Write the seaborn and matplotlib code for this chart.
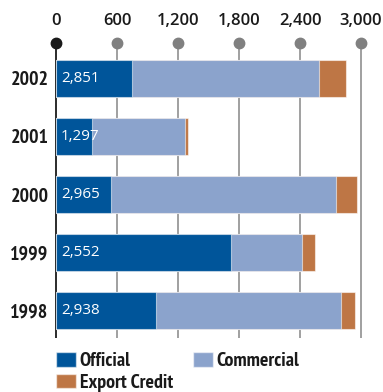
import matplotlib
matplotlib.use("Agg")
import matplotlib.pyplot as plt
import matplotlib.transforms as mtransforms
from matplotlib.patches import Patch
import seaborn as sns
import pandas as pd

# ---- data ----
years = ["2002", "2001", "2000", "1999", "1998"]
official = [747, 354, 541, 1721, 979]
commercial = [1842, 911, 2212, 695, 1822]
export_credit = [262, 32, 212, 136, 137]
totals = [2851, 1297, 2965, 2552, 2938]
xticks = [0, 600, 1200, 1800, 2400, 3000]
series_names = ["Official", "Commercial", "Export Credit"]
colors = ["#00559A", "#8BA3CC", "#BE7645"]

sns.set_style("white")
NARROW = ["PT Sans Narrow", "Open Sans Condensed", "DejaVu Sans"]
OPEN = ["Open Sans", "DejaVu Sans"]

df = pd.DataFrame({"year": years, "official": official,
                   "commercial": commercial, "export": export_credit})
df["c1"] = df["official"]
df["c2"] = df["official"] + df["commercial"]
df["c3"] = df["c2"] + df["export"]

fig = plt.figure(figsize=(3.83, 3.92), dpi=100)
ax = fig.add_axes([56 / 383, (392 - 338) / 392, 305 / 383, 295 / 392])

edge = (1, 1, 1, 0.55)
for col, c in zip(["c3", "c2", "c1"], colors[::-1]):
    sns.barplot(data=df, x=col, y="year", order=years, orient="h", color=c,
                width=0.64, edgecolor=edge, linewidth=0.8, ax=ax, zorder=3,
                saturation=1)

ax.set_xlim(0, 3000)
ax.set_ylim(4.474, -0.612)
for s in ax.spines.values():
    s.set_visible(False)

# grid lines + marker heads
trans = mtransforms.blended_transform_factory(ax.transData, ax.transAxes)
for t in xticks:
    lc = "#1a1a1a" if t == 0 else "#999999"
    mc = "#1a1a1a" if t == 0 else "#808080"
    ax.plot([t, t], [0, 1], transform=trans, color=lc, lw=1.3, zorder=1,
            clip_on=False, solid_capstyle="butt")
    ax.plot([t], [1], transform=trans, marker="o", ms=7.5, color=mc,
            zorder=5, clip_on=False)

ax.xaxis.tick_top()
ax.set_xticks(xticks)
ax.set_xticklabels([f"{t:,}" for t in xticks], fontfamily=OPEN,
                   fontweight="semibold", fontsize=12, color="#1a1a1a")
ax.tick_params(axis="x", length=0, pad=10)
ax.tick_params(axis="y", length=0, pad=5.5)
for lab in ax.get_yticklabels():
    lab.set_fontfamily(NARROW)
    lab.set_fontweight("bold")
    lab.set_fontsize(14.4)
    lab.set_color("#1a1a1a")
ax.set_xlabel("")
ax.set_ylabel("")

for i, tot in enumerate(totals):
    ax.annotate(f"{tot:,}", xy=(0, i), xytext=(3.6, 0), textcoords="offset points",
                ha="left", va="center", color="white", fontsize=10.9,
                fontfamily=OPEN, zorder=6)

handles = [Patch(facecolor=colors[0], edgecolor=edge, label=series_names[0]),
           Patch(facecolor=colors[2], edgecolor=edge, label=series_names[2]),
           Patch(facecolor=colors[1], edgecolor=edge, label=series_names[1])]
leg = fig.legend(handles=handles, loc="upper left",
                 bbox_to_anchor=(56 / 383, (392 - 352) / 392), ncol=2,
                 frameon=False, borderpad=0, borderaxespad=0,
                 handlelength=1.0, handleheight=0.75, handletextpad=0.2,
                 columnspacing=1.0, labelspacing=0.18,
                 prop={"family": NARROW, "weight": "bold", "size": 14.3})
for txt in leg.get_texts():
    txt.set_color("#1a1a1a")

fig.savefig("out.png", dpi=100)
